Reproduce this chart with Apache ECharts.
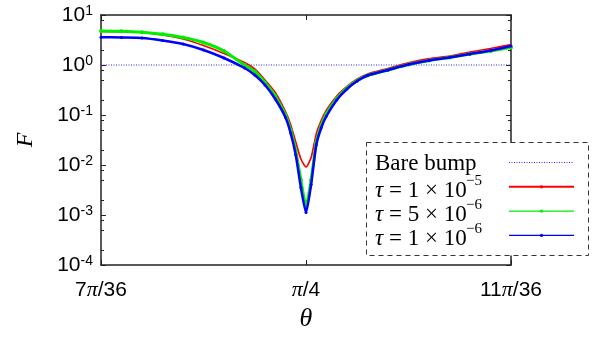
<!DOCTYPE html>
<html>
<head>
<meta charset="utf-8">
<script src="https://cdn.jsdelivr.net/npm/echarts@6/dist/echarts.min.js"></script>
<style>
  html, body { margin: 0; padding: 0; background: #fff; }
  #chart { width: 594px; height: 337px; }
</style>
</head>
<body>
<div id="chart"></div>
<script>
// theta in degrees (35 = 7pi/36, 45 = pi/4, 55 = 11pi/36)
const thetaDeg = [35, 36, 37, 38, 39, 40, 41, 42, 42.5, 43, 43.5, 44, 44.25, 44.5, 44.75, 45,
  45.25, 45.5, 45.75, 46, 46.5, 47, 47.5, 48, 49, 50, 51, 52, 53, 54, 55];

const bareTheta = [35, 55];
const bareBump = [1, 1];

// F values
const tau1e5 = [4.68, 4.62, 4.47, 3.98, 3.31, 2.45, 1.70, 1.12, 0.832, 0.501, 0.282, 0.117, 0.0646, 0.0288, 0.0132, 0.00912,
  0.0141, 0.0417, 0.0794, 0.126, 0.240, 0.372, 0.525, 0.661, 0.851, 1.10, 1.34, 1.51, 1.82, 2.14, 2.55];
const tau5e6 = [4.79, 4.73, 4.52, 4.12, 3.55, 2.82, 1.91, 1.00, 0.741, 0.447, 0.240, 0.100, 0.0501, 0.0191, 0.00501, 0.00151,
  0.00501, 0.0282, 0.0631, 0.107, 0.214, 0.347, 0.490, 0.617, 0.794, 1.02, 1.23, 1.41, 1.66, 1.91, 2.25];
const tau1e6 = [3.59, 3.55, 3.47, 3.09, 2.63, 2.00, 1.38, 0.871, 0.631, 0.398, 0.209, 0.0891, 0.0437, 0.0158, 0.00355, 0.00112,
  0.00407, 0.0251, 0.0562, 0.0955, 0.200, 0.331, 0.479, 0.617, 0.794, 1.02, 1.23, 1.41, 1.66, 1.95, 2.40];

const xTicks = [35, 45, 55];
const xTickLabels = ['7π/36', 'π/4', '11π/36'];
const yMinorTicks = [2e-4, 5e-4, 8e-4, 2e-3, 5e-3, 8e-3, 0.02, 0.05, 0.08, 0.2, 0.5, 0.8, 2, 5, 8];

const legendLabels = ['Bare bump', '1 × 10', '5 × 10', '1 × 10'];
const legendExps = ['', '−5', '−6', '−6'];
const colors = ['#2a2aff', '#ff0000', '#00ee00', '#0000ff'];

const sansFont = '"Liberation Sans", Arial, sans-serif';
const serifFont = '"Liberation Serif", "Times New Roman", serif';

const pairs = (xs, ys) => xs.map((x, i) => [x, ys[i]]);

const chart = echarts.init(document.getElementById('chart'), null, { renderer: 'canvas' });

// legend drawn by hand: text on the left, sample line on the right
const legendGraphics = [{
  type: 'rect', z: 100,
  shape: { x: 366.5, y: 142.5, width: 222, height: 113 },
  style: { fill: '#fff', stroke: '#333', lineWidth: 1, lineDash: [5, 4] }
}];
legendLabels.forEach((label, i) => {
  const rowY = 163.5 + i * 24.3;
  const lineY = 162.5 + i * 24.3;
  legendGraphics.push({
    type: 'text', z: 101, x: 375, y: i === 0 ? rowY : rowY + 3,
    style: {
      text: i === 0 ? label : '{t|τ} = ' + label,
      font: '23px ' + serifFont, fill: '#000', verticalAlign: 'middle',
      rich: { t: { fontStyle: 'italic', fontSize: 23, fontFamily: serifFont } }
    }
  });
  if (legendExps[i]) {
    legendGraphics.push({
      type: 'text', z: 101, x: 466, y: rowY - 7,
      style: { text: legendExps[i], font: '15px ' + serifFont, fill: '#000', verticalAlign: 'middle' }
    });
  }
  legendGraphics.push({
    type: 'line', z: 101,
    shape: { x1: 509, y1: lineY, x2: 574, y2: lineY },
    style: i === 0
      ? { stroke: colors[0], lineWidth: 1, lineDash: [1, 1.5] }
      : { stroke: colors[i], lineWidth: i === 1 ? 2 : 1.3 }
  });
  if (i > 0) {
    legendGraphics.push({
      type: 'circle', z: 101,
      shape: { cx: 541.5, cy: lineY, r: 1.6 },
      style: { fill: colors[i] }
    });
  }
});

const axisLine = { show: true, lineStyle: { color: '#222', width: 1.5 } };
const yRange = { type: 'log', logBase: 10, min: 1e-4, max: 10 };

chart.setOption({
  animation: false,
  grid: { left: 101, right: 83, top: 15, bottom: 67 },
  xAxis: [{
    type: 'value', min: 35, max: 55, position: 'bottom',
    name: 'θ', nameLocation: 'middle', nameGap: 41,
    nameTextStyle: { fontFamily: serifFont, fontStyle: 'italic', fontSize: 26, color: '#000' },
    axisLine: axisLine,
    axisTick: { inside: true, length: 5, customValues: xTicks, lineStyle: { color: '#222' } },
    axisLabel: {
      customValues: xTicks, margin: 14,
      formatter: v => {
        const lab = xTickLabels[xTicks.indexOf(v)] || '';
        const parts = lab.split('π');
        return (parts[0] ? '{n|' + parts[0] + '}' : '') + '{p|π}{n|' + parts[1] + '}';
      },
      rich: {
        n: { fontFamily: sansFont, fontSize: 21, color: '#000' },
        p: { fontFamily: serifFont, fontStyle: 'italic', fontSize: 22, color: '#000' }
      }
    },
    splitLine: { show: false }
  }, {
    type: 'value', min: 35, max: 55, position: 'top',
    axisLine: axisLine,
    axisTick: { inside: true, length: 5, customValues: xTicks, lineStyle: { color: '#222' } },
    axisLabel: { show: false },
    splitLine: { show: false }
  }],
  yAxis: [Object.assign({}, yRange, {
    position: 'left',
    name: 'F', nameLocation: 'middle', nameGap: 63, nameRotate: 90,
    nameTextStyle: { fontFamily: serifFont, fontStyle: 'italic', fontSize: 24, color: '#000' },
    axisLine: axisLine,
    axisTick: { inside: true, length: 5, lineStyle: { color: '#222' } },
    axisLabel: {
      margin: 8,
      formatter: v => '{b|10}{s|' + Math.round(Math.log10(v)) + '}',
      rich: {
        b: { fontFamily: sansFont, fontSize: 21, lineHeight: 22, verticalAlign: 'bottom', color: '#000' },
        s: { fontFamily: sansFont, fontSize: 14, lineHeight: 14, verticalAlign: 'top', color: '#000' }
      }
    },
    splitLine: { show: false }
  }), Object.assign({}, yRange, {
    position: 'right',
    axisLine: axisLine,
    axisTick: { inside: true, length: 5, lineStyle: { color: '#222' } },
    axisLabel: { show: false },
    splitLine: { show: false }
  }), Object.assign({}, yRange, {
    position: 'left',
    axisLine: { show: false },
    axisTick: { inside: true, length: 3, customValues: yMinorTicks, lineStyle: { color: '#222' } },
    axisLabel: { show: false },
    splitLine: { show: false }
  }), Object.assign({}, yRange, {
    position: 'right',
    axisLine: { show: false },
    axisTick: { inside: true, length: 3, customValues: yMinorTicks, lineStyle: { color: '#222' } },
    axisLabel: { show: false },
    splitLine: { show: false }
  })],
  graphic: legendGraphics,
  series: [{
    name: 'Bare bump', type: 'line', data: pairs(bareTheta, bareBump),
    symbol: 'none', lineStyle: { color: colors[0], width: 1, type: [1, 1.5] }, z: 2
  }, {
    name: 'tau=1e-5', type: 'line', data: pairs(thetaDeg, tau1e5), smooth: 0.2,
    symbol: 'none', lineStyle: { color: colors[1], width: 1.7 }, z: 3
  }, {
    name: 'tau=5e-6', type: 'line', data: pairs(thetaDeg, tau5e6), smooth: 0.2,
    symbol: 'circle', symbolSize: 4, itemStyle: { color: colors[2] },
    lineStyle: { color: colors[2], width: 3 }, z: 4
  }, {
    name: 'tau=1e-6', type: 'line', data: pairs(thetaDeg, tau1e6), smooth: 0.2,
    symbol: 'circle', symbolSize: 3, itemStyle: { color: colors[3] },
    lineStyle: { color: colors[3], width: 2.5 }, z: 5
  }]
});
</script>
</body>
</html>
